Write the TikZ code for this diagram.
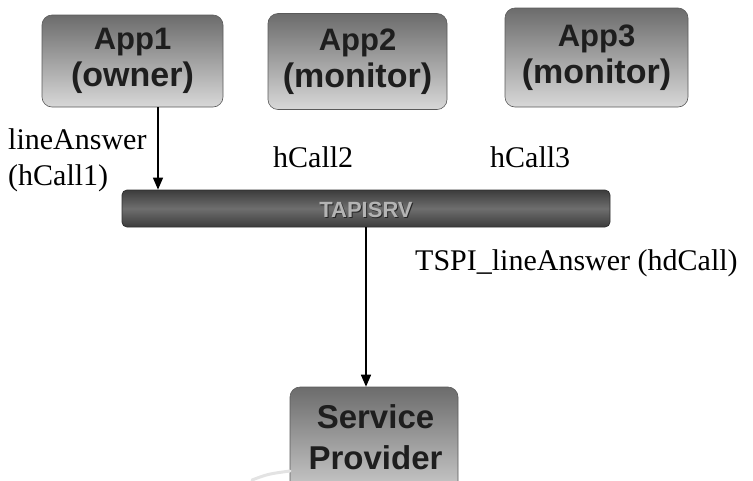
\documentclass[tikz,border=0pt]{standalone}
\usepackage{fontspec}
\setmainfont{Liberation Serif}
\newfontfamily\boxfont{Liberation Sans}
\usetikzlibrary{arrows.meta}

\definecolor{boxtop}{HTML}{6C6C6C}
\definecolor{boxbot}{HTML}{D8D8D8}
\definecolor{boxedge}{HTML}{5A5A5A}
\definecolor{boxtext}{HTML}{1E1E1E}
\definecolor{bardark}{HTML}{3C3C3C}
\definecolor{barmid}{HTML}{6E6E6E}
\definecolor{bartext}{HTML}{B4B4B4}

\newcommand\roleline[1]{\fontsize{34}{37}\selectfont #1}

\tikzset{
  appbox/.style={rectangle, rounded corners=10pt, draw=boxedge, line width=0.6pt,
    top color=boxtop, bottom color=boxbot, inner sep=0pt,
    font=\boxfont\bfseries\fontsize{31}{37}\selectfont, text=boxtext, align=center},
  srvbar/.style={rectangle, rounded corners=5pt, draw=bardark!80!black, line width=0.8pt,
    top color=bardark, bottom color=bardark, middle color=barmid, inner sep=0pt},
  bartxt/.style={font=\boxfont\bfseries\fontsize{22}{24}\selectfont, inner sep=0pt},
  lbl/.style={font=\fontsize{30}{36}\selectfont, inner sep=0pt, anchor=base west},
  arr/.style={line width=1.5pt, -{Triangle[length=12pt,width=10pt]}}
}

\begin{document}
\begin{tikzpicture}[x=1pt, y=-1pt]
\useasboundingbox (0,0) rectangle (753,480);
\begin{scope}
\clip (0,0) rectangle (753,480);

% client applications
\node[appbox, minimum width=181pt, minimum height=92pt] (app1) at (132.5,61) {App1\\\roleline{(owner)}};
\node[appbox, minimum width=179pt, minimum height=96pt] (app2) at (357.5,61.5) {App2\\\roleline{(monitor)}};
\node[appbox, minimum width=183pt, minimum height=99pt] (app3) at (596.5,57.5) {App3\\\roleline{(monitor)}};

% TAPI server bar
\node[srvbar, minimum width=488pt, minimum height=37pt] (bar) at (366,208.5) {};
\node[bartxt, text=black!85] at (367,210.5) {TAPISRV};
\node[bartxt, text=bartext] (bartitle) at (366,209.5) {TAPISRV};

% service provider (runs off the lower edge)
\node[appbox, minimum width=168pt, minimum height=120pt] (sp) at (374,447) {};
\node[font=\boxfont\bfseries\fontsize{33}{41}\selectfont, text=boxtext, align=center, inner sep=0pt]
  (sptext) at (375.5,437) {Service\\Provider};
\draw[gray!22, line width=3pt, line cap=round] (252,480) .. controls (268,474) .. (290,471);

% calls
\draw[arr] ([xshift=25.5pt]app1.south) -- ([xshift=25.5pt]app1.south |- bar.north);
\draw[arr] (bar.south) -- (bar.south |- sp.north);

% labels
\node[lbl] (la1) at (8,149) {lineAnswer};
\node[lbl] (la2) at (8,185) {(hCall1)};
\node[lbl] (h2) at (273,167) {hCall2};
\node[lbl] (h3) at (490,167) {hCall3};
\node[lbl] (tspi) at (415,270) {TSPI\_lineAnswer (hdCall)};
\end{scope}
\end{tikzpicture}
\end{document}
